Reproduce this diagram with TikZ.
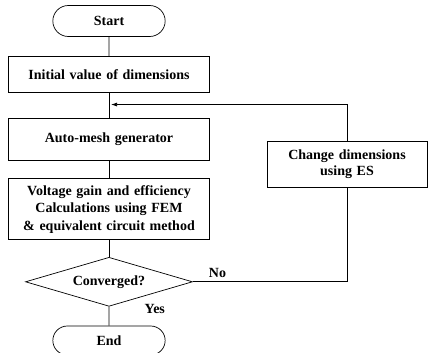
\documentclass[tikz,border=0pt]{standalone}
\usepackage{fontspec}
\setmainfont{Liberation Serif}
\usetikzlibrary{positioning,shapes.geometric,shapes.misc,arrows.meta}

\begin{document}
\begin{tikzpicture}[x=1pt, y=1pt, auto,
  font=\bfseries\fontsize{14}{17.5}\selectfont,
  block/.style={rectangle, draw, line width=0.7pt, text width=190pt, text centered, minimum width=201pt},
  terminal/.style={rounded rectangle, draw, line width=0.7pt, minimum width=119pt, minimum height=31pt},
  decision/.style={diamond, draw, line width=0.7pt, aspect=3.4, inner sep=0pt, minimum width=167pt, minimum height=49pt},
  line/.style={line width=0.7pt}]
\useasboundingbox (0,0) rectangle (428,-353);

\node [terminal] (start) at (109,-21) {Start};
\node [block, below=19pt of start, minimum height=36pt] (initial) {Initial value of dimensions};
\node [block, below=25pt of initial, minimum height=42pt] (mesh) {Auto-mesh generator};
\node [block, below=18pt of mesh, minimum height=61pt] (calc) {Voltage gain and efficiency\\ Calculations using FEM\\ \& equivalent circuit method};
\node [decision, below=17pt of calc] (converged) {Converged?};
\node [terminal, below=19pt of converged, minimum height=29pt] (stop) {End};
\node [block, text width=150pt, minimum width=160pt, minimum height=46pt, font=\bfseries\fontsize{14}{15.5}\selectfont] (change) at (347,-164) {Change dimensions\\ using ES};
\coordinate [below=12pt of initial] (join);

\draw [line] (start) -- (initial);
\draw [line] (initial) -- (mesh);
\draw [line] (mesh) -- (calc);
\draw [line] (calc) -- (converged);
\draw [line] (converged) -- node [pos=0.1, right=32pt] {Yes} (stop);
\draw [line] (converged) -| node [pos=0.08, above] {No} (change);
\draw [line, -{Latex[length=6pt, width=4pt]}, shorten >=2pt] (change) |- (join);

\end{tikzpicture}
\end{document}
